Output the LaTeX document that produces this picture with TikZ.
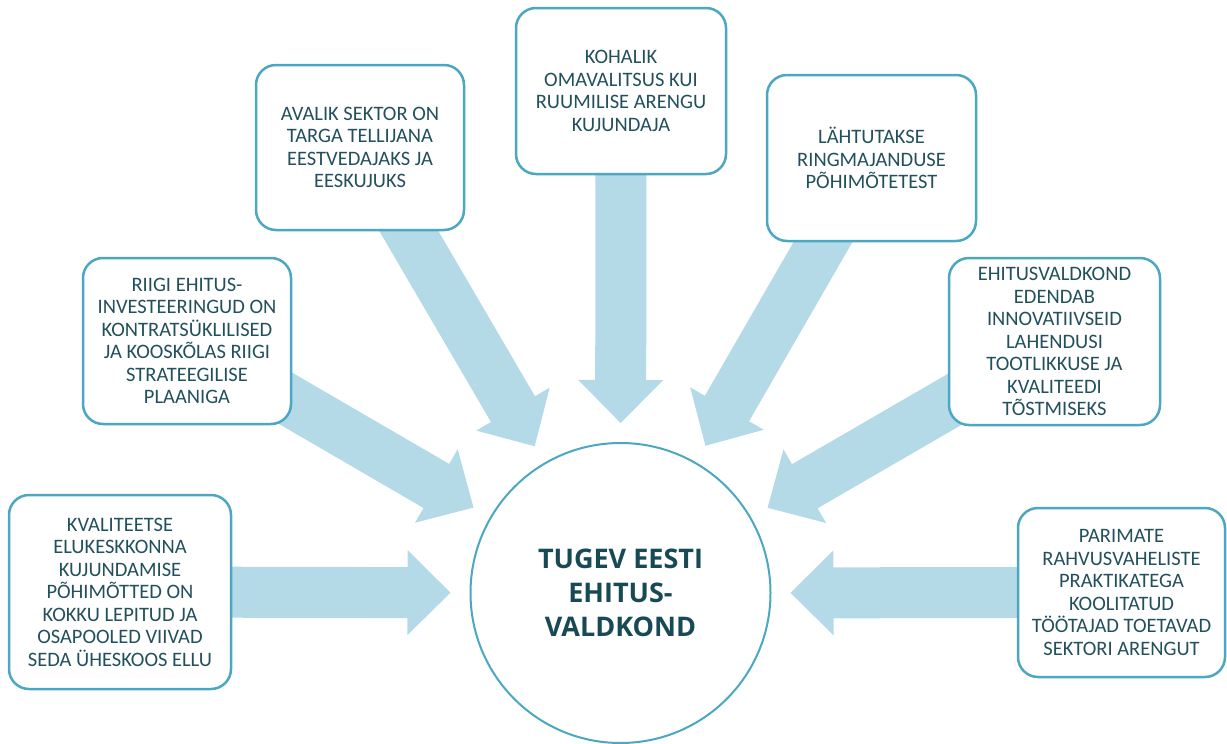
\documentclass[tikz,border=0pt]{standalone}
\usepackage{fontspec}
\setmainfont{Carlito}
\newfontfamily\headfont{Open Sans}
\usetikzlibrary{calc}
\definecolor{arrowfill}{HTML}{B4DAE8}
\definecolor{boxline}{HTML}{4BA7C2}
\definecolor{txt}{HTML}{22505C}
\definecolor{headtxt}{HTML}{184A56}
\pgfdeclarelayer{bg}
\pgfsetlayers{bg,main}
\newcommand{\bigarr}[2]{%
  \coordinate (#2b) at ($(#2)!43pt!(#1.center)$);
  \fill[arrowfill] ($(#1.center)!25.5pt!90:(#2)$) -- ($(#2b)!25.5pt!90:(#2)$) -- ($(#2b)!42.5pt!90:(#2)$) -- (#2) -- ($(#2b)!42.5pt!-90:(#2)$) -- ($(#2b)!25.5pt!-90:(#2)$) -- ($(#1.center)!25.5pt!-90:(#2)$) -- cycle;}
\tikzset{
  infobox/.style={draw=boxline, line width=2.5pt, rounded corners=20pt, fill=white,
    align=center, inner sep=0pt, text=txt, font=\fontsize{20.5pt}{22.5pt}\selectfont},
  hubnode/.style={circle, draw=boxline, line width=2pt, fill=white, minimum size=300pt,
    inner sep=0pt, align=center, text=headtxt, font=\headfont\bfseries\fontsize{27pt}{34pt}\selectfont}
}
\begin{document}
\begin{tikzpicture}[x=1pt,y=-1pt]
\useasboundingbox (0,0) rectangle (1227,744);
\node[hubnode] (hub) at (620.5,593) {TUGEV EESTI\\EHITUS-\\VALDKOND};
\node[infobox, minimum width=222pt, minimum height=194pt] (b1) at (120,592)
  {KVALITEETSE\\ELUKESKKONNA\\KUJUNDAMISE\\PÕHIMÕTTED ON\\KOKKU LEPITUD JA\\OSAPOOLED VIIVAD\\SEDA ÜHESKOOS ELLU};
\node[infobox, minimum width=208pt, minimum height=166pt] (b2) at (187,341)
  {RIIGI EHITUS-\\INVESTEERINGUD ON\\KONTRATSÜKLILISED\\JA KOOSKÕLAS RIIGI\\STRATEEGILISE\\PLAANIGA};
\node[infobox, minimum width=208pt, minimum height=165pt] (b3) at (360,147.5)
  {AVALIK SEKTOR ON\\TARGA TELLIJANA\\EESTVEDAJAKS JA\\EESKUJUKS};
\node[infobox, minimum width=210pt, minimum height=166pt] (b4) at (621,91)
  {KOHALIK\\OMAVALITSUS KUI\\RUUMILISE ARENGU\\KUJUNDAJA};
\node[infobox, minimum width=209pt, minimum height=166pt] (b5) at (871.5,158)
  {LÄHTUTAKSE\\RINGMAJANDUSE\\PÕHIMÕTETEST};
\node[infobox, minimum width=211pt, minimum height=167pt] (b6) at (1054.5,341.5)
  {EHITUSVALDKOND\\EDENDAB\\INNOVATIIVSEID\\LAHENDUSI\\TOOTLIKKUSE JA\\KVALITEEDI\\TÕSTMISEKS};
\node[infobox, minimum width=207pt, minimum height=169pt] (b7) at (1121.5,592.5)
  {PARIMATE\\RAHVUSVAHELISTE\\PRAKTIKATEGA\\KOOLITATUD\\TÖÖTAJAD TOETAVAD\\SEKTORI ARENGUT};
\foreach \i in {1,...,7} {
  \coordinate (t\i) at ($(hub.center)!170pt!(b\i.center)$);
}
\begin{pgfonlayer}{bg}
\bigarr{b1}{t1}
\bigarr{b2}{t2}
\bigarr{b3}{t3}
\bigarr{b4}{t4}
\bigarr{b5}{t5}
\bigarr{b6}{t6}
\bigarr{b7}{t7}
\end{pgfonlayer}
\end{tikzpicture}
\end{document}
